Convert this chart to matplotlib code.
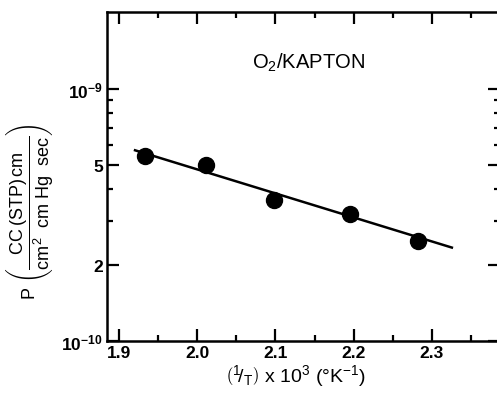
import numpy as np
import matplotlib.pyplot as plt
from matplotlib.ticker import FixedLocator, FixedFormatter, NullFormatter

plt.rcParams['font.family'] = ['Liberation Sans', 'DejaVu Sans']
plt.rcParams['mathtext.fontset'] = 'custom'
plt.rcParams['mathtext.rm'] = 'Liberation Sans'
plt.rcParams['mathtext.it'] = 'Liberation Sans:italic'
plt.rcParams['mathtext.bf'] = 'Liberation Sans:bold'

# measured points, 1/T x 10^3 vs permeability
inv_t = [1.933, 2.011, 2.098, 2.195, 2.282]
perm = [5.44e-10, 5.01e-10, 3.63e-10, 3.19e-10, 2.50e-10]

# fitted line end points
fit_x = [1.919, 2.327]
fit_y = [5.73e-10, 2.34e-10]

xmajor = [1.9, 2.0, 2.1, 2.2, 2.3]
xminor = [1.95, 2.05, 2.15, 2.25, 2.35]
ymajor = [1e-10, 2e-10, 5e-10, 1e-9]
ylabels = [r'$\mathbf{10^{-10}}$', '2', '5', r'$\mathbf{10^{-9}}$']
yminor = [3e-10, 4e-10, 6e-10, 7e-10, 8e-10, 9e-10]

fig = plt.figure(figsize=(4.97, 4.06), dpi=100)
ax = fig.add_axes([107 / 497, 64 / 406, (500 - 107) / 497, (342 - 13) / 406])

ax.plot(fit_x, fit_y, color='black', lw=1.8, solid_capstyle='butt')
ax.plot(inv_t, perm, 'o', color='black', markersize=11.5)

ax.set_yscale('log')
ax.set_xlim(1.8847, 2.387)
ax.set_ylim(1e-10, 2.02e-9)

ax.xaxis.set_major_locator(FixedLocator(xmajor))
ax.xaxis.set_minor_locator(FixedLocator(xminor))
ax.set_xticklabels(['1.9', '2.0', '2.1', '2.2', '2.3'], fontweight='bold')
ax.yaxis.set_major_locator(FixedLocator(ymajor))
ax.yaxis.set_major_formatter(FixedFormatter(ylabels))
ax.yaxis.set_minor_locator(FixedLocator(yminor))
ax.yaxis.set_minor_formatter(NullFormatter())
for lab in ax.get_yticklabels():
    lab.set_fontweight('bold')

ax.tick_params(which='both', direction='in', top=True, right=True, width=1.6, labelsize=12.5)
ax.tick_params(which='major', length=8.5, pad=3)
ax.tick_params(which='minor', length=4.5)
for s in ax.spines.values():
    s.set_linewidth(1.8)

ax.text(308, 63, r'O$_2$/KAPTON', transform=None, ha='center', va='center', fontsize=14.5)
# place in pixel coords (origin at bottom)
ax.texts[-1].set_position((308, 406 - 63))

fig.text(295 / 497, 1 - 376 / 406,
         r'$\left(^1\!/_{\mathrm{T}}\right)$ x 10$^3$ ($\degree$K$^{-1}$)',
         ha='center', va='center', fontsize=14)
fig.text(30 / 497, 1 - 212 / 406,
         r'P $\left(\dfrac{\mathrm{CC\,(STP)\,cm}}{\mathrm{cm^2\ \ cm\ Hg\ \ sec}}\right)$',
         ha='center', va='center', rotation=90, fontsize=13)

fig.savefig('out.png', dpi=100)
